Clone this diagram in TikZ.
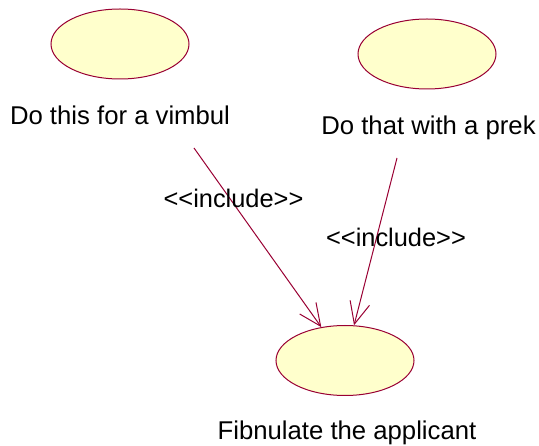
\documentclass[tikz,border=0pt]{standalone}
\usepackage{fontspec}
\setmainfont{Liberation Sans}
\usetikzlibrary{shapes.geometric,arrows.meta}
\definecolor{umlline}{RGB}{153,0,51}
\definecolor{umlfill}{RGB}{255,255,204}
\begin{document}
\begin{tikzpicture}[x=1pt,y=-1pt,
  usecase/.style={ellipse,draw=umlline,fill=umlfill,line width=1pt,
    minimum width=138pt,minimum height=70pt,inner sep=0pt},
  caption/.style={anchor=base,inner sep=0pt,font=\fontsize{25.7}{30}\selectfont},
  stereo/.style={anchor=base,inner sep=0pt,font=\fontsize{25.4}{30}\selectfont},
  incl/.style={draw=umlline,line width=1pt,
    -{Straight Barb[length=22pt,width=20pt,line width=1pt]}}]
  \useasboundingbox (0,0) rectangle (539,446);
  % use cases
  \node[usecase] (uc1) at (120,44) {};
  \node[usecase] (uc2) at (427,54) {};
  \node[usecase] (uc3) at (345,360.5) {};
  % use case names
  \node[caption] (t1) at (120,125) {Do this for a vimbul};
  \node[caption] (t2) at (428.5,135) {Do that with a prek};
  \node[caption] (t3) at (347,440) {Fibnulate the applicant};
  % include relations
  \coordinate (s1) at (194,148);
  \coordinate (s2) at (397,158);
  \draw[incl] (s1) -- (uc3);
  \draw[incl] (s2) -- (uc3);
  \node[stereo] (l1) at (233.5,208) {<{}<include>{}>};
  \node[stereo] (l2) at (396,247) {<{}<include>{}>};
\end{tikzpicture}
\end{document}
